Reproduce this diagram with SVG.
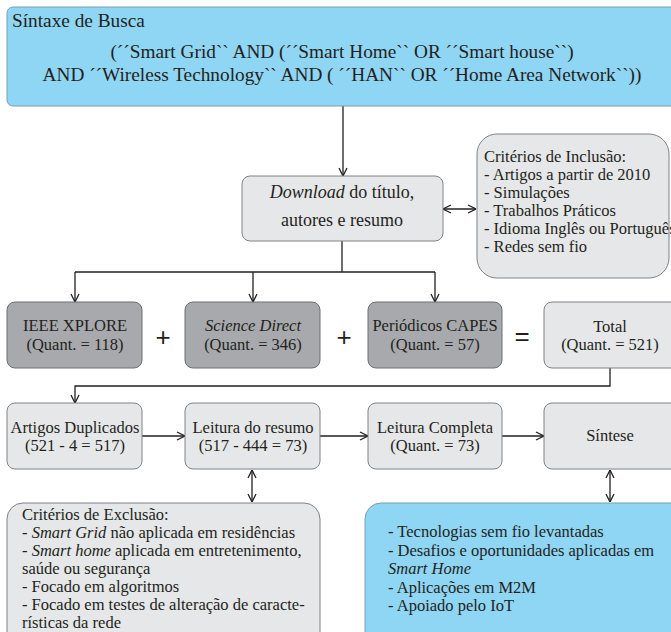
<svg xmlns="http://www.w3.org/2000/svg" width="671" height="632" viewBox="0 0 671 632">
<style>
text{font-family:"Liberation Serif","Times New Roman",serif;fill:#231f20;font-size:16.5px}
.c{text-anchor:middle}
.lg{font-size:18px}
.top{font-size:19.3px}
.it{font-style:italic}
.blue{fill:#8fd5f4;stroke:#7a9fb0;stroke-width:1}
.dark{fill:#a7a9ac;stroke:#6d6e71;stroke-width:1}
.light{fill:#e6e7e8;stroke:#808285;stroke-width:1}
.ln{fill:none;stroke:#231f20;stroke-width:1.3}
.op{font-family:"Liberation Sans",Arial,sans-serif;font-size:26px}
</style>
<defs>
<marker id="ah" viewBox="0 0 10 10" refX="10" refY="5" markerWidth="10" markerHeight="10" markerUnits="userSpaceOnUse" orient="auto-start-reverse">
<polyline points="2,1 10,5 2,9" fill="none" stroke="#231f20" stroke-width="1.3"/>
</marker>
</defs>
<rect width="671" height="632" fill="#ffffff"/>

<g id="connectors">
<line class="ln" x1="343" y1="106" x2="343" y2="176" marker-end="url(#ah)"/>
<line class="ln" x1="443" y1="209" x2="476" y2="209" marker-start="url(#ah)" marker-end="url(#ah)"/>
<polyline class="ln" points="342,241 342,272"/>
<polyline class="ln" points="75,272 435,272"/>
<line class="ln" x1="75" y1="272" x2="75" y2="302" marker-end="url(#ah)"/>
<line class="ln" x1="253" y1="272" x2="253" y2="302" marker-end="url(#ah)"/>
<line class="ln" x1="435" y1="272" x2="435" y2="302" marker-end="url(#ah)"/>
<polyline class="ln" points="610,368 610,386 75,386 75,403" marker-end="url(#ah)"/>
<line class="ln" x1="142" y1="436" x2="185" y2="436" marker-end="url(#ah)"/>
<line class="ln" x1="320" y1="436" x2="368" y2="436" marker-end="url(#ah)"/>
<line class="ln" x1="502" y1="436" x2="544" y2="436" marker-end="url(#ah)"/>
<line class="ln" x1="252" y1="470" x2="252" y2="502" marker-start="url(#ah)" marker-end="url(#ah)"/>
<line class="ln" x1="610" y1="470" x2="610" y2="502" marker-start="url(#ah)" marker-end="url(#ah)"/>
</g>

<g id="sintaxe">
<rect class="blue" x="7" y="7" width="680" height="99" rx="6"/>
<text class="top" x="12" y="27">Síntaxe de Busca</text>
<text class="c top" x="342" y="58">(´´Smart Grid`` AND (´´Smart Home`` OR ´´Smart house``)</text>
<text class="c top" x="342" y="81">AND ´´Wireless Technology``  AND ( ´´HAN`` OR ´´Home Area Network``))</text>
</g>

<g id="download">
<rect class="light" x="242" y="176" width="201" height="65" rx="8"/>
<text class="c lg" x="342" y="198"><tspan class="it">Download</tspan> do título,</text>
<text class="c lg" x="342" y="226">autores e resumo</text>
</g>

<g id="inclusao">
<rect class="light" x="477" y="134" width="192" height="144" rx="20"/>
<text x="484" y="162">Critérios de Inclusão:</text>
<text x="484" y="180">- Artigos a partir de 2010</text>
<text x="484" y="198">- Simulações</text>
<text x="484" y="216">- Trabalhos Práticos</text>
<text x="484" y="234">- Idioma Inglês ou Português</text>
<text x="484" y="252">- Redes sem fio</text>
</g>

<g id="ieee">
<rect class="dark" x="7" y="302" width="135" height="66" rx="8"/>
<text class="c" x="75" y="331">IEEE XPLORE</text>
<text class="c" x="75" y="350">(Quant. = 118)</text>
</g>
<text class="op c" x="163" y="346">+</text>
<g id="science">
<rect class="dark" x="185" y="302" width="135" height="66" rx="8"/>
<text class="c it" x="253" y="331">Science Direct</text>
<text class="c" x="253" y="350">(Quant. = 346)</text>
</g>
<text class="op c" x="344" y="346">+</text>
<g id="capes">
<rect class="dark" x="368" y="302" width="134" height="66" rx="8"/>
<text class="c" x="435" y="331">Periódicos CAPES</text>
<text class="c" x="435" y="350">(Quant. = 57)</text>
</g>
<text class="op c" x="522" y="345">=</text>
<g id="total">
<rect class="light" x="544" y="302" width="140" height="66" rx="8"/>
<text class="c" x="610" y="332">Total</text>
<text class="c" x="610" y="350">(Quant. = 521)</text>
</g>

<g id="duplicados">
<rect class="light" x="7" y="403" width="135" height="66" rx="8"/>
<text class="c" x="75" y="433">Artigos Duplicados</text>
<text class="c" x="75" y="451">(521 - 4 = 517)</text>
</g>
<g id="resumo">
<rect class="light" x="185" y="403" width="135" height="66" rx="8"/>
<text class="c" x="253" y="433">Leitura do resumo</text>
<text class="c" x="253" y="451">(517 - 444 = 73)</text>
</g>
<g id="completa">
<rect class="light" x="368" y="403" width="134" height="66" rx="8"/>
<text class="c" x="435" y="433">Leitura Completa</text>
<text class="c" x="435" y="451">(Quant. = 73)</text>
</g>
<g id="sintese">
<rect class="light" x="544" y="403" width="140" height="66" rx="8"/>
<text class="c" x="610" y="441">Síntese</text>
</g>

<g id="exclusao">
<rect class="light" x="7" y="503" width="313" height="145" rx="16"/>
<text x="22" y="520">Critérios de Exclusão:</text>
<text x="22" y="538">- <tspan class="it">Smart Grid</tspan> não aplicada em residências</text>
<text x="22" y="556">- <tspan class="it">Smart home</tspan> aplicada em entretenimento,</text>
<text x="22" y="574">saúde ou segurança</text>
<text x="22" y="592">- Focado em algoritmos</text>
<text x="22" y="610">- Focado em testes de alteração de caracte-</text>
<text x="22" y="628">rísticas da rede</text>
</g>

<g id="resultados">
<rect class="blue" x="365" y="503" width="330" height="145" rx="16"/>
<text x="388" y="537">- Tecnologias sem fio levantadas</text>
<text x="388" y="556">- Desafios e oportunidades aplicadas em</text>
<text class="it" x="388" y="574">Smart Home</text>
<text x="388" y="593">- Aplicações em M2M</text>
<text x="388" y="611">- Apoiado pelo IoT</text>
</g>
</svg>
